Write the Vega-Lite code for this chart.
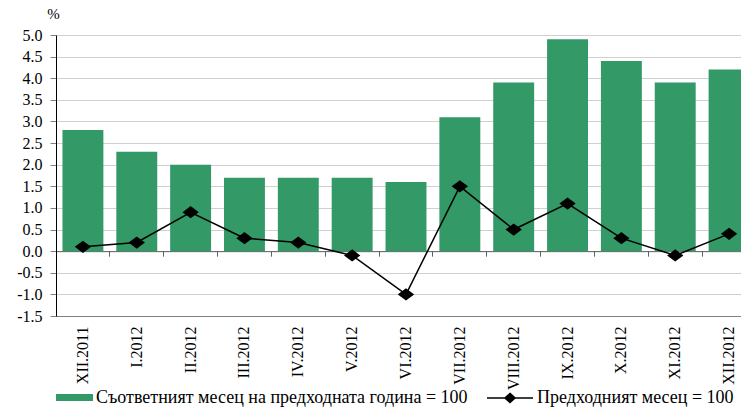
{
  "$schema": "https://vega.github.io/schema/vega-lite/v6.json",
  "width": 685,
  "height": 281,
  "autosize": {"type": "none"},
  "padding": {"left": 56, "top": 35, "right": 0, "bottom": 92},
  "background": "white",
  "config": {
    "view": {"stroke": null},
    "axis": {"labelColor": "black", "titleColor": "black"},
    "axisY": {
      "labelOverlap": false, "labelFont": "Liberation Serif",
      "grid": true, "gridColor": "#d0d0d0", "domainColor": "black", "tickColor": "#808080", "tickSize": 6,
      "labelFontSize": 16, "labelPadding": 8, "titleAngle": 0, "titleX": -3, "titleY": -14, "titleFont": "Liberation Serif",
      "titleFontSize": 15, "titleFontWeight": "normal", "titleAlign": "center"
    },
    "legend": {"labelColor": "black", "padding": 0}
  },
  "data": {
    "values": [
      {"month": "XII.2011", "yoy": 2.8, "mom": 0.1},
      {"month": "I.2012", "yoy": 2.3, "mom": 0.2},
      {"month": "II.2012", "yoy": 2.0, "mom": 0.9},
      {"month": "III.2012", "yoy": 1.7, "mom": 0.3},
      {"month": "IV.2012", "yoy": 1.7, "mom": 0.2},
      {"month": "V.2012", "yoy": 1.7, "mom": -0.1},
      {"month": "VI.2012", "yoy": 1.6, "mom": -1.0},
      {"month": "VII.2012", "yoy": 3.1, "mom": 1.5},
      {"month": "VIII.2012", "yoy": 3.9, "mom": 0.5},
      {"month": "IX.2012", "yoy": 4.9, "mom": 1.1},
      {"month": "X.2012", "yoy": 4.4, "mom": 0.3},
      {"month": "XI.2012", "yoy": 3.9, "mom": -0.1},
      {"month": "XII.2012", "yoy": 4.2, "mom": 0.4}
    ]
  },
  "resolve": {"axis": {"x": "independent"}, "scale": {"x": "shared", "y": "shared"}},
  "layer": [
    {
      "mark": {"type": "bar", "width": {"band": 0.76}},
      "encoding": {
        "x": {
          "field": "month", "type": "nominal", "sort": null,
          "scale": {"type": "band", "paddingInner": 0, "paddingOuter": 0, "range": [0, 700]},
          "axis": {"orient": "bottom", "title": null, "labelAngle": -90, "labelAlign": "right", "labelBaseline": "middle", "labelFont": "Liberation Serif", "labelFontSize": 16, "labelPadding": 10, "ticks": false, "domain": true, "domainColor": "#808080", "grid": false}
        },
        "y": {
          "field": "yoy", "type": "quantitative",
          "scale": {"domain": [-1.5, 5], "nice": false, "zero": false},
          "axis": {
            "title": "%", "values": [-1.5, -1, -0.5, 0, 0.5, 1, 1.5, 2, 2.5, 3, 3.5, 4, 4.5, 5],
            "labelExpr": "replace(format(datum.value, '.1f'), '\u2212', '-')"
          }
        },
        "fill": {
          "datum": "Съответният месец на предходната година = 100", "type": "nominal",
          "scale": {"range": ["#339966"]},
          "legend": {"orient": "none", "legendX": 0, "legendY": 344, "title": null, "symbolType": "M-1,-0.19H1V0.19H-1Z", "symbolSize": 1369, "symbolStrokeWidth": 0, "labelFont": "Liberation Serif", "labelFontSize": 18, "labelLimit": 0, "labelOffset": 3}
        }
      }
    },
    {
      "mark": {"type": "line", "strokeWidth": 1.5, "point": {"shape": "M-1,0L0,-0.75L1,0L0,0.75Z", "size": 169, "filled": true, "color": "black"}},
      "encoding": {
        "x": {
          "field": "month", "type": "nominal", "sort": null,
          "axis": {"orient": "bottom", "offset": -64.85, "title": null, "labels": false, "ticks": true, "tickSize": 5, "tickColor": "#606060", "domainColor": "#606060", "bandPosition": 0, "grid": false}
        },
        "y": {
          "field": "mom", "type": "quantitative",
          "axis": {
            "title": "%", "values": [-1.5, -1, -0.5, 0, 0.5, 1, 1.5, 2, 2.5, 3, 3.5, 4, 4.5, 5],
            "labelExpr": "replace(format(datum.value, '.1f'), '\u2212', '-')"
          }
        },
        "stroke": {
          "datum": "Предходният месец = 100", "type": "nominal",
          "scale": {"range": ["black"]},
          "legend": {"orient": "none", "legendX": 430, "legendY": 339, "title": null, "symbolType": "M-1,0H1M0,-0.2L0.22,0L0,0.2L-0.22,0Z", "symbolSize": 2116, "symbolStrokeWidth": 1.5, "symbolStrokeColor": "black", "symbolFillColor": "black", "labelFont": "Liberation Serif", "labelFontSize": 18, "labelLimit": 0, "labelOffset": 3,
            "encode": {"symbols": {"update": {"fill": {"value": "black"}, "stroke": {"value": "black"}}}}}
        }
      }
    }
  ]
}
